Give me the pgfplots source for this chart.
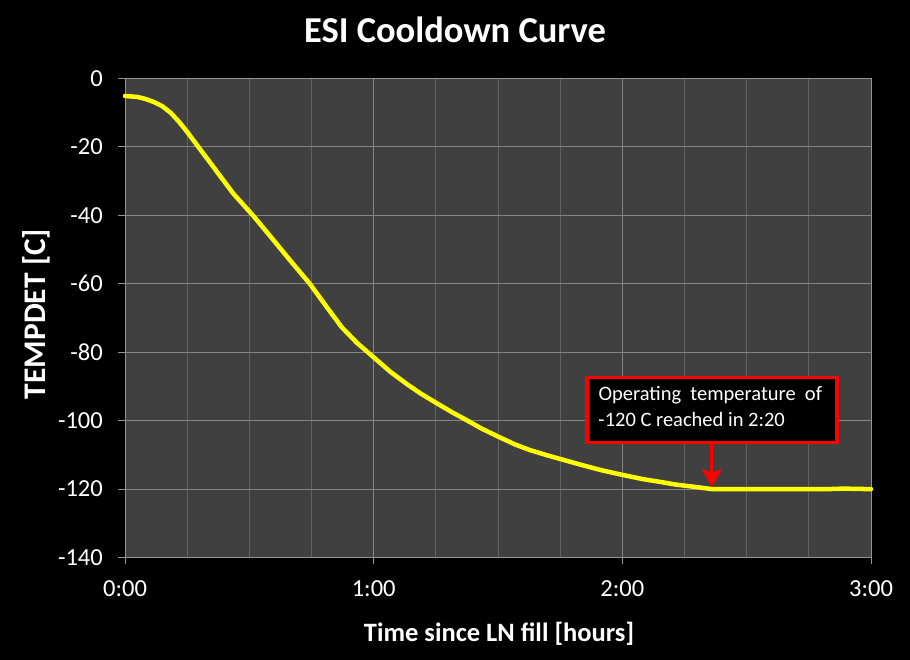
\documentclass[border=0pt]{standalone}
\usepackage{pgfplots}
\pgfplotsset{compat=1.18}
\usepackage{fontspec}
\setmainfont{Carlito}
\usetikzlibrary{arrows.meta}
\definecolor{plotbg}{HTML}{404040}
\definecolor{gridmaj}{HTML}{858585}
\definecolor{gridmin}{HTML}{626262}
\definecolor{axisc}{HTML}{959595}
\begin{document}
\begin{tikzpicture}
\fill[black] (0,0) rectangle (910bp,660bp);
\begin{axis}[
  at={(125bp,102.5bp)}, anchor=south west,
  scale only axis, width=746bp, height=479bp,
  xmin=0, xmax=180, ymin=-140, ymax=0,
  axis background/.style={fill=plotbg},
  axis line style={axisc, line width=1bp},
  xtick={0,60,120,180},
  xticklabels={0:00,1:00,2:00,3:00},
  minor xtick={15,30,45,75,90,105,135,150,165},
  ytick={-140,-120,-100,-80,-60,-40,-20,0},
  grid=both,
  major grid style={gridmaj, line width=1bp},
  minor grid style={gridmin, line width=1bp},
  tick align=outside,
  major tick length=7bp,
  minor tick length=0pt,
  tick style={axisc, line width=1bp},
  xtick pos=bottom, ytick pos=left,
  /pgf/number format/assume math mode=true,
  ticklabel style={font=\fontsize{24.5bp}{28bp}\selectfont, text=white},
  yticklabel style={inner sep=0pt, xshift=-15bp},
  xticklabel style={inner sep=0pt, yshift=-16bp},
  clip=false,
]
\addplot[color={rgb,255:red,255;green,255;blue,0}, line width=4.5bp, line join=round, line cap=round] coordinates {
(0,-5.1) (3,-5.4) (5,-6.0) (7,-6.9) (9,-8.1) (11,-10.0) (13,-12.6) (15,-15.6)
(17.7,-20.0) (21.3,-25.8) (26.1,-33.6) (31,-40.2) (35.8,-47.2) (39.8,-53.1)
(44.6,-60) (48.5,-66.5) (52.3,-72.7) (56,-77.3) (60.3,-81.8) (64,-85.7)
(68,-89.3) (71.5,-92.2) (75.2,-94.9) (79,-97.6) (82.5,-99.9) (86,-102.3)
(90.1,-104.7) (94,-106.9) (97.7,-108.6) (101.5,-110.0) (105,-111.2) (110,-112.9)
(115,-114.5) (120.2,-115.9) (125,-117.1) (129.1,-117.9) (133,-118.7) (137.1,-119.3)
(141.6,-120) (150,-120) (160,-120) (170,-120) (172.5,-119.9) (174,-119.85)
(175.5,-119.95) (180,-120)
};
\draw[red, line width=3bp, -{Stealth[length=18bp,width=20bp,inset=4bp]}] (axis cs:141.6,-106.5) -- (axis cs:141.6,-119.4);
\node[draw=red, line width=3.3bp, fill=black, anchor=center,
  minimum width=250bp, minimum height=65bp, inner sep=0pt]
  at (axis cs:141.6,-96.9) {};
\node[text=white, anchor=north west, inner sep=0pt,
  font=\fontsize{20.5bp}{26bp}\selectfont, align=left]
  at (axis cs:114.2,-90.0) {Operating\hspace{0.45em}temperature\hspace{0.45em}of\\-120 C reached in 2:20};
\end{axis}
\node[anchor=base, text=white, font=\bfseries\fontsize{36.5bp}{40bp}\selectfont, inner sep=0pt] at (455bp,617bp) {ESI Cooldown Curve};
\node[anchor=base, text=white, font=\bfseries\fontsize{26.5bp}{30bp}\selectfont, inner sep=0pt] at (499bp,18.6bp) {Time since LN fill [hours]};
\node[anchor=base, rotate=90, text=white, font=\bfseries\fontsize{31.5bp}{34bp}\selectfont, inner sep=0pt] at (45bp,346bp) {TEMPDET [C]};
\pgfresetboundingbox
\useasboundingbox (0,0) rectangle (910bp,660bp);
\end{tikzpicture}
\end{document}
